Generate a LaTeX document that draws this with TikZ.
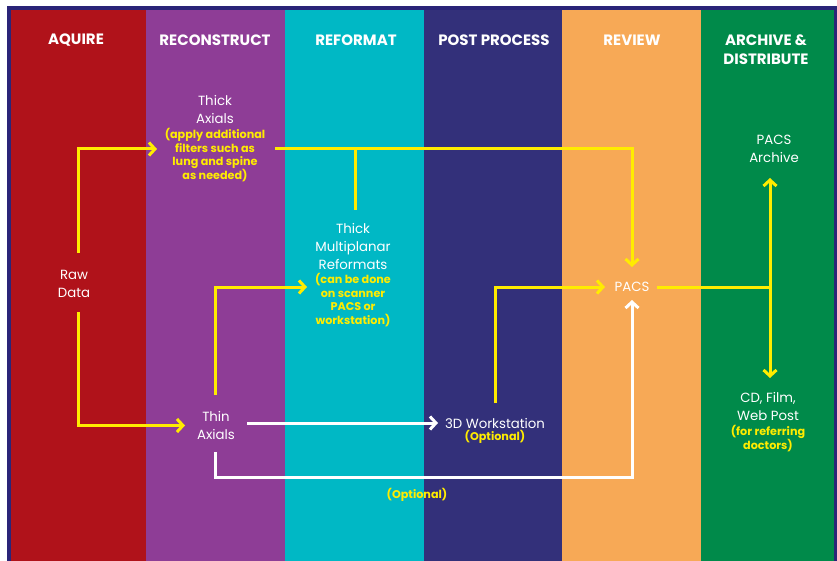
\documentclass[tikz,border=0pt]{standalone}
\usepackage{fontspec}
\setmainfont{Poppins}
\usetikzlibrary{arrows.meta}

\definecolor{frame}{RGB}{42,36,120}
\definecolor{colA}{RGB}{176,18,26}
\definecolor{colB}{RGB}{142,61,150}
\definecolor{colC}{RGB}{0,184,197}
\definecolor{colD}{RGB}{51,48,122}
\definecolor{colE}{RGB}{247,169,86}
\definecolor{colF}{RGB}{0,138,74}
\definecolor{yel}{RGB}{255,236,0}

\begin{document}
\begin{tikzpicture}[x=1pt,y=-1pt,
  hdr/.style={text=white,font=\fontsize{15}{19}\selectfont\bfseries,align=center,inner sep=0pt},
  lbl/.style={text=white,font=\fontsize{13.3}{18}\selectfont,align=center,inner sep=0pt},
  note/.style={text=yel,font=\fontsize{11.2}{13.4}\selectfont\bfseries,align=center,inner sep=0pt},
  ylw/.style={draw=yel,line width=3pt},
  wht/.style={draw=white,line width=3pt},
  arr/.style={-{Straight Barb[length=6pt,width=13pt]}}
]
% page and frame
\fill[white] (0,0) rectangle (837,561);
\useasboundingbox (0,0) rectangle (837,561);
\fill[frame] (7,6) rectangle (837,561);

% stage columns
\fill[colA] (11,10) rectangle (146,561);
\fill[colB] (146,10) rectangle (285,561);
\fill[colC] (285,10) rectangle (424,561);
\fill[colD] (424,10) rectangle (562,561);
\fill[colE] (562,10) rectangle (701,561);
\fill[colF] (701,10) rectangle (834,561);

% stage headers
\node[hdr] (hA) at (76,40) {AQUIRE};
\node[hdr] (hB) at (215,40) {RECONSTRUCT};
\node[hdr] (hC) at (356,40) {REFORMAT};
\node[hdr] (hD) at (494,40) {POST PROCESS};
\node[hdr] (hE) at (632,40) {REVIEW};
\node[hdr] (hF) at (766,49.5) {ARCHIVE \&\\DISTRIBUTE};

% labels
\node[lbl] (raw) at (74,284) {Raw\\Data};
\node[lbl] (thickax) at (215,110) {Thick\\Axials};
\node[note] (thickaxnote) at (215,155) {(apply additional\\filters such as\\lung and spine\\as needed)};
\node[lbl] (thin) at (216,425.5) {Thin\\Axials};
\node[lbl] (mpr) at (353,246.5) {Thick\\Multiplanar\\Reformats};
\node[note] (mprnote) at (353,300) {(can be done\\on scanner\\PACS or\\workstation)};
\node[lbl] (ws) at (495,423) {3D Workstation};
\node[note] (wsnote) at (495,437) {(Optional)};
\node[note] (optlabel) at (417,495) {(Optional)};
\node[lbl] (pacs) at (632,287) {PACS};
\node[lbl] (archive) at (774,149) {PACS\\Archive};
\node[lbl] (cd) at (768,406.5) {CD, Film,\\Web Post};
\node[note] (cdnote) at (768,438.5) {(for referring\\doctors)};

% junction points
\coordinate (tabus) at ([xshift=60pt,yshift=6pt]thickaxnote.center);
\coordinate (mprtop) at ([xshift=2pt,yshift=36.5pt]mpr.center);
\coordinate (split) at ([xshift=138pt]pacs.center);

% yellow flow
\draw[ylw,arr] ([xshift=4pt,yshift=31pt]raw.center) |- ([xshift=-58pt,yshift=6pt]thickaxnote.center);
\draw[ylw,arr] ([xshift=4pt,yshift=-28pt]raw.center) |- ([xshift=-31pt]thin.center);
\draw[ylw,arr] (tabus) -| ([yshift=20pt]pacs.center);
\draw[ylw] (mprtop) -- (mprtop |- tabus);
\draw[ylw,arr] ([xshift=-1pt,yshift=30.5pt]thin.center) |- ([xshift=-46pt,yshift=13pt]mprnote.center);
\draw[ylw,arr] ([yshift=20pt]ws.center) |- ([xshift=-27pt]pacs.center);
\draw[ylw] ([xshift=25pt]pacs.center) -- (split);
\draw[ylw,arr] (split) -- ([xshift=-4pt,yshift=-29pt]archive.center);
\draw[ylw,arr] (split) -- ([xshift=2pt,yshift=28.5pt]cd.center);

% white (optional) flow
\draw[wht,arr] ([xshift=31pt,yshift=2.5pt]thin.center) -- ([xshift=-57pt]ws.center);
\draw[wht,arr] ([xshift=-1pt,yshift=-26.5pt]thin.center) -- ++(0,25) -| ([yshift=-13pt]pacs.center);
\end{tikzpicture}
\end{document}
